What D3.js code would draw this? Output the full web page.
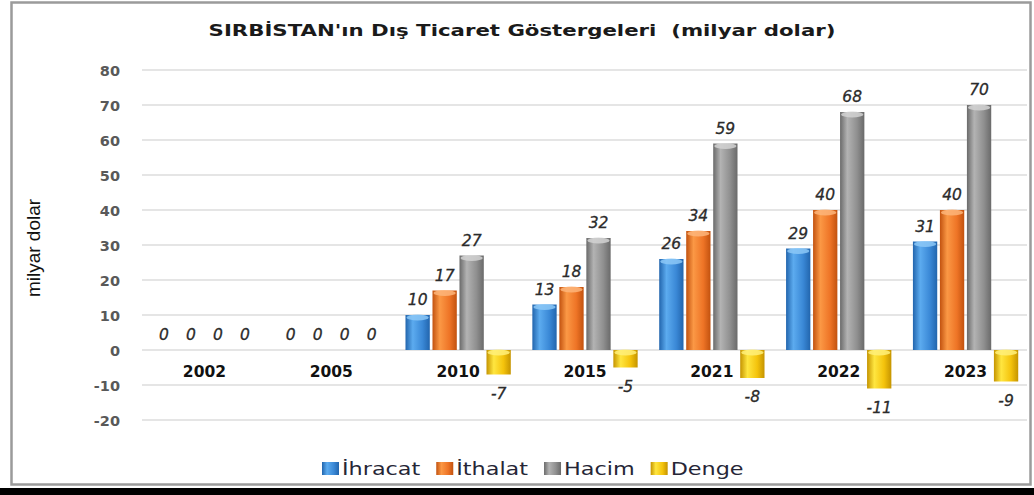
<!DOCTYPE html>
<html>
<head>
<meta charset="utf-8">
<script src="https://cdn.jsdelivr.net/npm/d3@7"></script>
<style>
  body { margin: 0; background: #fff; }
  svg { display: block; }
</style>
</head>
<body>
<svg id="chart" width="1034" height="495"></svg>
<script>
//chart data
var years = ["2002", "2005", "2010", "2015", "2021", "2022", "2023"];
var seriesNames = ["İhracat", "İthalat", "Hacim", "Denge"];
var ihracat = [0, 0, 10, 13, 26, 29, 31];
var ithalat = [0, 0, 17, 18, 34, 40, 40];
var hacim = [0, 0, 27, 32, 59, 68, 70];
var denge = [0, 0, -7, -5, -8, -11, -9];
var yTicks = [-20, -10, 0, 10, 20, 30, 40, 50, 60, 70, 80];
var titleText = "SIRBİSTAN'ın Dış Ticaret Göstergeleri  (milyar dolar)";
var yTitle = "milyar dolar";

//bar colours (dark edge, light middle, base)
var colors = [
    {dark: "#2265ad", light: "#5cabef", base: "#3a88d6", cap: "#8cc8f7"},
    {dark: "#c2520f", light: "#fb9845", base: "#ee7426", cap: "#fdb57a"},
    {dark: "#6a6a6a", light: "#b3b3b3", base: "#8f8f8f", cap: "#d2d2d2"},
    {dark: "#c59400", light: "#ffe640", base: "#f4c30c", cap: "#fff07a"}
];

var allValues = [ihracat, ithalat, hacim, denge];

var svg = d3.select("#chart"),
    plotLeft = 141, plotRight = 1029, //plot area x
    plotTop = 70, plotBottom = 420;   //plot area y (80 .. -20)

var x = d3.scaleBand().domain(years).range([plotLeft, plotRight])
    .paddingInner(0.17).paddingOuter(0.085);
var xs = d3.scaleBand().domain(seriesNames).range([0, x.bandwidth()])
    .paddingInner(0.1);
var y = d3.scaleLinear().domain([-20, 80]).range([plotBottom, plotTop]);

//frame
svg.append("rect").attr("x", 0).attr("y", 0).attr("width", 1034).attr("height", 495).attr("fill", "#fff");
svg.append("rect")
    .attr("x", 11.5).attr("y", 2.5).attr("width", 1019).attr("height", 482)
    .attr("fill", "#fff").attr("stroke", "#9b9b9b").attr("stroke-width", 2.5);
svg.append("rect").attr("x", 0).attr("y", 488).attr("width", 1034).attr("height", 7).attr("fill", "#000");

//gradients
var defs = svg.append("defs");
colors.forEach(function (c, i) {
    var g = defs.append("linearGradient").attr("id", "grad" + i)
        .attr("x1", 0).attr("x2", 1).attr("y1", 0).attr("y2", 0);
    g.append("stop").attr("offset", 0).attr("stop-color", c.dark);
    g.append("stop").attr("offset", 0.3).attr("stop-color", c.light);
    g.append("stop").attr("offset", 0.7).attr("stop-color", c.base);
    g.append("stop").attr("offset", 1).attr("stop-color", c.dark);
});

//title (stretched a bit to match the wide original)
svg.append("text")
    .attr("transform", "translate(522,36) scale(1.29,1)")
    .attr("text-anchor", "middle")
    .style("font-family", "DejaVu Sans")
    .style("font-weight", "bold")
    .style("font-size", "16.5px")
    .style("white-space", "pre")
    .attr("fill", "#1a1a1a")
    .text(titleText);

//gridlines
svg.append("g").selectAll("line").data(yTicks).join("line")
    .attr("x1", plotLeft + 1).attr("x2", plotRight - 2)
    .attr("y1", function (d) { return y(d); })
    .attr("y2", function (d) { return y(d); })
    .attr("stroke", "#dcdcdc").attr("stroke-width", 1.5);

//y axis tick labels
svg.append("g").selectAll("text").data(yTicks).join("text")
    .attr("x", 120)
    .attr("y", function (d) { return y(d) + 5.5; })
    .attr("text-anchor", "end")
    .style("font-family", "DejaVu Sans")
    .style("font-weight", "bold")
    .style("font-size", "14.5px")
    .attr("fill", "#595959")
    .text(function (d) { return d; });

//y axis title
svg.append("text")
    .attr("transform", "translate(40,248) rotate(-90)")
    .attr("text-anchor", "middle")
    .style("font-family", "'Liberation Sans Narrow', 'Arial Narrow', 'Liberation Sans'")
    .style("font-stretch", "condensed")
    .style("font-size", "19px")
    .attr("fill", "#111")
    .text(yTitle);

//bar rows
var rows = [];
years.forEach(function (yr, i) {
    seriesNames.forEach(function (s, k) {
        rows.push({year: yr, series: s, k: k, value: allValues[k][i]});
    });
});

function barX(d) { return x(d.year) + xs(d.series); }

var bars = svg.append("g");
bars.selectAll("rect").data(rows.filter(function (d) { return d.value !== 0; })).join("rect")
    .attr("x", barX)
    .attr("y", function (d) { return Math.min(y(d.value), y(0)); })
    .attr("width", xs.bandwidth())
    .attr("height", function (d) { return Math.abs(y(d.value) - y(0)); })
    .attr("fill", function (d) { return "url(#grad" + d.k + ")"; });

//rounded cap on top of each bar
bars.selectAll("ellipse").data(rows.filter(function (d) { return d.value !== 0; })).join("ellipse")
    .attr("cx", function (d) { return barX(d) + xs.bandwidth() / 2; })
    .attr("cy", function (d) { return Math.min(y(d.value), y(0)) + 2.5; })
    .attr("rx", xs.bandwidth() / 2 - 1)
    .attr("ry", 3)
    .attr("fill", function (d) { return colors[d.k].cap; })
    .attr("opacity", 0.85);

//value labels
svg.append("g").selectAll("text").data(rows).join("text")
    .attr("x", function (d) { return barX(d) + xs.bandwidth() / 2; })
    .attr("y", function (d) { return d.value < 0 ? y(d.value) + 24 : y(d.value) - 10; })
    .attr("text-anchor", "middle")
    .style("font-family", "DejaVu Sans")
    .style("font-style", "italic")
    .style("font-size", "15.5px")
    .attr("fill", "#2b2b2b")
    .attr("stroke", "#2b2b2b").attr("stroke-width", 0.3)
    .text(function (d) { return d.value; });

//category labels
svg.append("g").selectAll("text").data(years).join("text")
    .attr("x", function (d) { return x(d) + x.bandwidth() / 2; })
    .attr("y", 377)
    .attr("text-anchor", "middle")
    .style("font-family", "DejaVu Sans")
    .style("font-weight", "bold")
    .style("font-size", "15.5px")
    .attr("fill", "#111")
    .text(function (d) { return d; });

//legend
var legend = svg.append("g");
var lx = 322, stretch = 1.24;
seriesNames.forEach(function (s, k) {
    legend.append("rect")
        .attr("x", lx).attr("y", 462).attr("width", 17).attr("height", 13)
        .attr("fill", "url(#grad" + k + ")");
    var t = legend.append("text")
        .attr("transform", "translate(" + (lx + 20) + ",475) scale(" + stretch + ",1)")
        .style("font-family", "DejaVu Sans")
        .style("font-size", "18px")
        .attr("fill", "#262636")
        .text(s);
    lx += 20 + t.node().getComputedTextLength() * stretch + 16;
});
</script>
</body>
</html>
